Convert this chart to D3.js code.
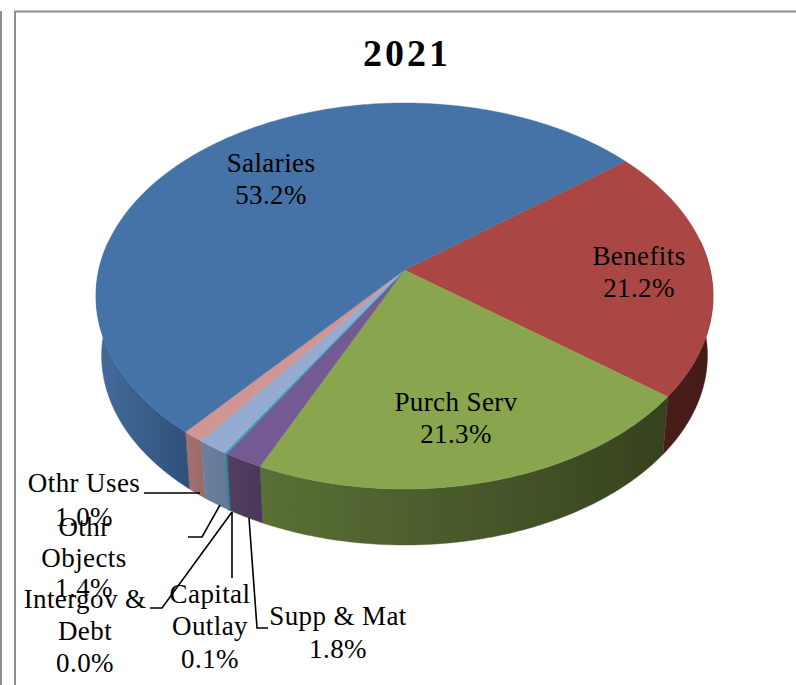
<!DOCTYPE html>
<html><head><meta charset="utf-8">
<script src="https://cdn.jsdelivr.net/npm/d3@7"></script>
<style>html,body{margin:0;padding:0;background:#fff;overflow:hidden}svg{display:block}text{font-family:"Liberation Serif",serif;fill:#000}</style>
</head><body><svg id="c" width="796" height="685"></svg>
<script>
const categories = ["Benefits","Purch Serv","Supp & Mat","Capital Outlay","Intergov & Debt","Othr Objects","Othr Uses","Salaries"];
const values = [21.2,21.3,1.8,0.1,0.0,1.4,1.0,53.2];
const title = "2021";
const topColors = ["#AA4744","#89A54E","#735A93","#3E9FB2","#DB843D","#96ABD2","#D09595","#4573A7"];
const sideLeft  = ["#4A1D1A","#5A7036","#52405F","#2F8494","#A0602A","#6C809E","#A27271","#446C9C"];
const sideRight = ["#431A17","#36421E","#4A3659","#2F8494","#A0602A","#647897","#966866","#2F5079"];

const svg = d3.select("#c");
const startAngle = 51.5*Math.PI/180;
const pie = d3.pie().sort(null).value(d=>d).startAngle(startAngle).endAngle(startAngle+2*Math.PI);
const arcs = pie(values);

// circle radius/tilt projected with a perspective term, rim offset downward
const cx=404.5, cy=270, R=305.7, Rk=189.5, p=0.1346, rimScale=0.982, rimDrop=60;
const proj=(a,bottom)=>{
  const s=1+p*Math.cos(a), dx=R*Math.sin(a)/s, dy=-Rk*Math.cos(a)/s;
  return bottom?[cx+dx*rimScale,cy+dy*rimScale+rimDrop]:[cx+dx,cy+dy];
};
const line=d3.line();
const samples=(a0,a1)=>{
  const n=Math.max(2,Math.ceil((a1-a0)/0.01));
  return d3.range(n+1).map(i=>a0+(a1-a0)*i/n);
};
const defs=svg.append("defs");

// frame
const frame="#8F8F8F";
svg.append("path").attr("d","M15,685V11.5H796").attr("fill","none").attr("stroke",frame).attr("stroke-width",2);
svg.append("path").attr("d","M1,685V11").attr("fill","none").attr("stroke",frame).attr("stroke-width",2);

// rims
arcs.forEach((d,i)=>{
  if(d.value===0) return;
  const as=samples(d.startAngle,d.endAngle);
  // only the front part of the rim shows
  const vis=as.filter(a=>Math.cos(a)<=0.16);
  const use=vis.length>=2?vis:as;
  const pts=use.map(a=>proj(a,false)).concat(use.slice().reverse().map(a=>proj(a,true)));
  const ext=d3.extent(pts,q=>q[0]);
  const id="g"+i;
  const g=defs.append("linearGradient").attr("id",id).attr("gradientUnits","userSpaceOnUse")
    .attr("x1",ext[0]).attr("x2",ext[1]).attr("y1",0).attr("y2",0);
  g.append("stop").attr("offset",0).attr("stop-color",sideLeft[i]);
  g.append("stop").attr("offset",1).attr("stop-color",sideRight[i]);
  svg.append("path").attr("d",line(pts)+"Z").attr("fill",`url(#${id})`).attr("stroke",`url(#${id})`).attr("stroke-width",d.value<0.5?1.2:0.4);
});
// tops
arcs.forEach((d,i)=>{
  if(d.value===0) return;
  const pts=[[cx,cy]].concat(samples(d.startAngle,d.endAngle).map(a=>proj(a,false)));
  svg.append("path").attr("d",line(pts)+"Z").attr("fill",topColors[i]).attr("stroke",topColors[i]).attr("stroke-width",d.value<0.5?1.2:0.4);
});

// title
svg.append("text").attr("x",407).attr("y",66).attr("text-anchor","middle")
  .style("font-size","38px").style("font-weight","bold").style("letter-spacing","3px").text(title);

// leaders
const leaders=[
  [[144,493],[200,493]],
  [[188,537],[202,537],[220,505]],
  [[150,608],[162,608],[232,512]],
  [[232,512],[232,578]],
  [[249,518],[257,628],[268,628]]
];
leaders.forEach(l=>svg.append("path").attr("d",line(l)).attr("fill","none").attr("stroke","#000").attr("stroke-width",1.6));

// labels
const labelText=[
  ["Salaries","53.2%"],["Benefits","21.2%"],["Purch Serv","21.3%"],
  ["Othr Uses","1.0%"],["Othr","Objects","1.4%"],["Intergov &","Debt","0.0%"],
  ["Capital","Outlay","0.1%"],["Supp & Mat","1.8%"]
];
const labelX=[271,639,456,84,84,85,210,338];
const labelY=[[172,204],[265,297],[411,443],[492,526],[536,567,597],[608,640,672],[603,635,668],[625,658]];
labelText.forEach((ls,i)=>ls.forEach((t,j)=>{
  svg.append("text").attr("x",labelX[i]).attr("y",labelY[i][j]).attr("text-anchor","middle")
    .style("font-size","27px").style("letter-spacing","0.4px").text(t);
}));
</script></body></html>
